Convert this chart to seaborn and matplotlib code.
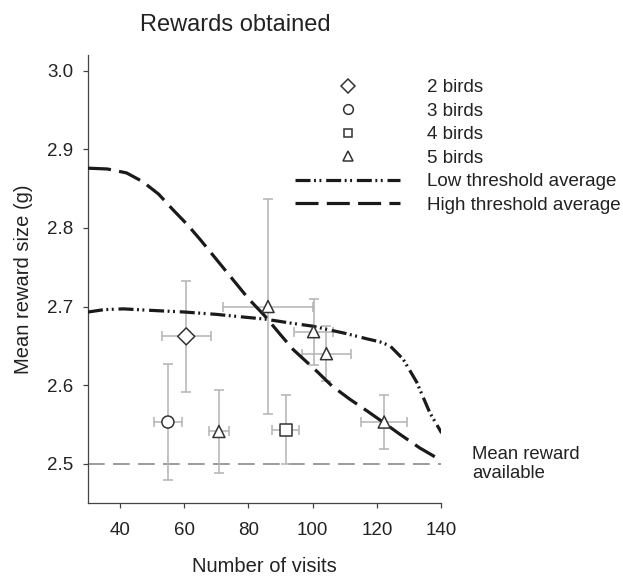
import numpy as np
import pandas as pd
import matplotlib
matplotlib.use("Agg")
import matplotlib.pyplot as plt
from matplotlib.lines import Line2D
import seaborn as sns

# ---- data ----
groups = ["2 birds", "3 birds", "5 birds", "4 birds", "5 birds", "5 birds", "5 birds", "5 birds"]
visits = [60.6, 54.9, 70.8, 91.6, 86.1, 100.3, 104.3, 122.3]
reward = [2.662, 2.553, 2.541, 2.543, 2.700, 2.668, 2.640, 2.553]
visits_err = [7.6, 4.4, 3.0, 4.2, 13.9, 6.0, 7.5, 7.2]
reward_err = [0.071, 0.074, 0.053, 0.044, 0.137, 0.042, 0.035, 0.034]

high_x = [30, 36, 42, 47, 52, 56.5, 61, 65, 70, 75.2, 80, 85.1, 90, 94, 101.2, 106, 111.6, 117, 121.9, 127, 133.4, 139.7]
high_y = [2.876, 2.875, 2.870, 2.859, 2.843, 2.823, 2.804, 2.785, 2.760, 2.734, 2.710, 2.688, 2.664, 2.645, 2.618, 2.599, 2.582, 2.567, 2.553, 2.538, 2.520, 2.505]

low_x = [30, 35, 41, 50, 60, 70, 77.4, 85.1, 93, 100, 103.2, 110, 116.8, 121, 124.1, 128.2, 132.4, 136.5, 140.2]
low_y = [2.693, 2.696, 2.697, 2.695, 2.693, 2.690, 2.687, 2.684, 2.679, 2.675, 2.672, 2.666, 2.659, 2.655, 2.650, 2.633, 2.604, 2.565, 2.539]

mean_available = 2.5
x_ticks = [40, 60, 80, 100, 120, 140]
y_ticks = [2.5, 2.6, 2.7, 2.8, 2.9, 3.0]

marker_map = {"2 birds": "D", "3 birds": "o", "4 birds": "s", "5 birds": "^"}

sns.set_style("ticks")
plt.rcParams["font.family"] = ["Liberation Sans", "DejaVu Sans"]
TXT = "#222222"
LOW_DASH = (4.7, 1.1, 0.6, 1.1, 0.6, 1.5)
HIGH_DASH = (7.2, 2.6)

fig = plt.figure(figsize=(6.23, 5.76), dpi=100)
ax = fig.add_axes([88 / 623, 1 - 503 / 576, (441 - 88) / 623, (503 - 55) / 576])

df = pd.DataFrame({"group": groups, "visits": visits, "reward": reward})

# reference line
ax.axhline(mean_available, color="#8a8a8a", lw=1.2, dashes=(10, 5), zorder=1)

# model curves
sns.lineplot(x=low_x, y=low_y, ax=ax, color="#1a1a1a", lw=2.3, zorder=3)
ax.lines[-1].set_dashes(LOW_DASH)
sns.lineplot(x=high_x, y=high_y, ax=ax, color="#1a1a1a", lw=2.3, zorder=3)
ax.lines[-1].set_dashes(HIGH_DASH)

# error bars
ax.errorbar(visits, reward, xerr=visits_err, yerr=reward_err, fmt="none",
            ecolor="#b3b3b3", elinewidth=1.1, capsize=3.5, capthick=1.1, zorder=2)

# points
sns.scatterplot(data=df, x="visits", y="reward", style="group", markers=marker_map,
                s=75, facecolor="white", edgecolor="#333333", linewidth=1.1,
                ax=ax, legend=False, zorder=4)

ax.set_xlim(30, 140)
ax.set_ylim(2.45, 3.02)
ax.set_xticks(x_ticks)
ax.set_yticks(y_ticks)
ax.set_yticklabels([f"{v:.1f}" for v in y_ticks])
for s in ["top", "right"]:
    ax.spines[s].set_visible(False)
for s in ["left", "bottom"]:
    ax.spines[s].set_color("#444444")
    ax.spines[s].set_linewidth(0.9)
ax.tick_params(direction="out", length=3.5, width=0.9, color="#444444",
               labelsize=13.5, labelcolor=TXT)
ax.tick_params(axis="x", pad=10)
ax.tick_params(axis="y", pad=7)

ax.set_xlabel("Number of visits", fontsize=14.5, color=TXT, labelpad=13)
ax.set_ylabel("Mean reward size (g)", fontsize=14.5, color=TXT, labelpad=10)
fig.text(235 / 623, 1 - 25 / 576, "Rewards obtained", fontsize=17, color=TXT,
         ha="center", va="center")

ax.text(149.7, mean_available, "Mean reward\navailable", fontsize=13.3, color=TXT,
        ha="left", va="center", clip_on=False, linespacing=1.15)

# legend
handles = []
labels = []
leg_ms = {"2 birds": 7.0, "3 birds": 7.0, "4 birds": 6.0, "5 birds": 7.0}
for g in ["2 birds", "3 birds", "4 birds", "5 birds"]:
    handles.append(Line2D([], [], ls="none", marker=marker_map[g], markersize=leg_ms[g],
                          markerfacecolor="white", markeredgecolor="#333333", markeredgewidth=1.1))
    labels.append(g)
handles.append(Line2D([], [], color="#1a1a1a", lw=2.3, dashes=LOW_DASH))
labels.append("Low threshold average")
handles.append(Line2D([], [], color="#1a1a1a", lw=2.3, dashes=HIGH_DASH))
labels.append("High threshold average")

leg = fig.legend(handles, labels, loc="upper left",
                 bbox_to_anchor=(295 / 623, 1 - 79 / 576), bbox_transform=fig.transFigure,
                 frameon=False, fontsize=13.5, handlelength=5.6, handletextpad=1.42,
                 labelspacing=0.34, borderpad=0, borderaxespad=0)
for t in leg.get_texts():
    t.set_color(TXT)

fig.savefig("out.png", dpi=100)
